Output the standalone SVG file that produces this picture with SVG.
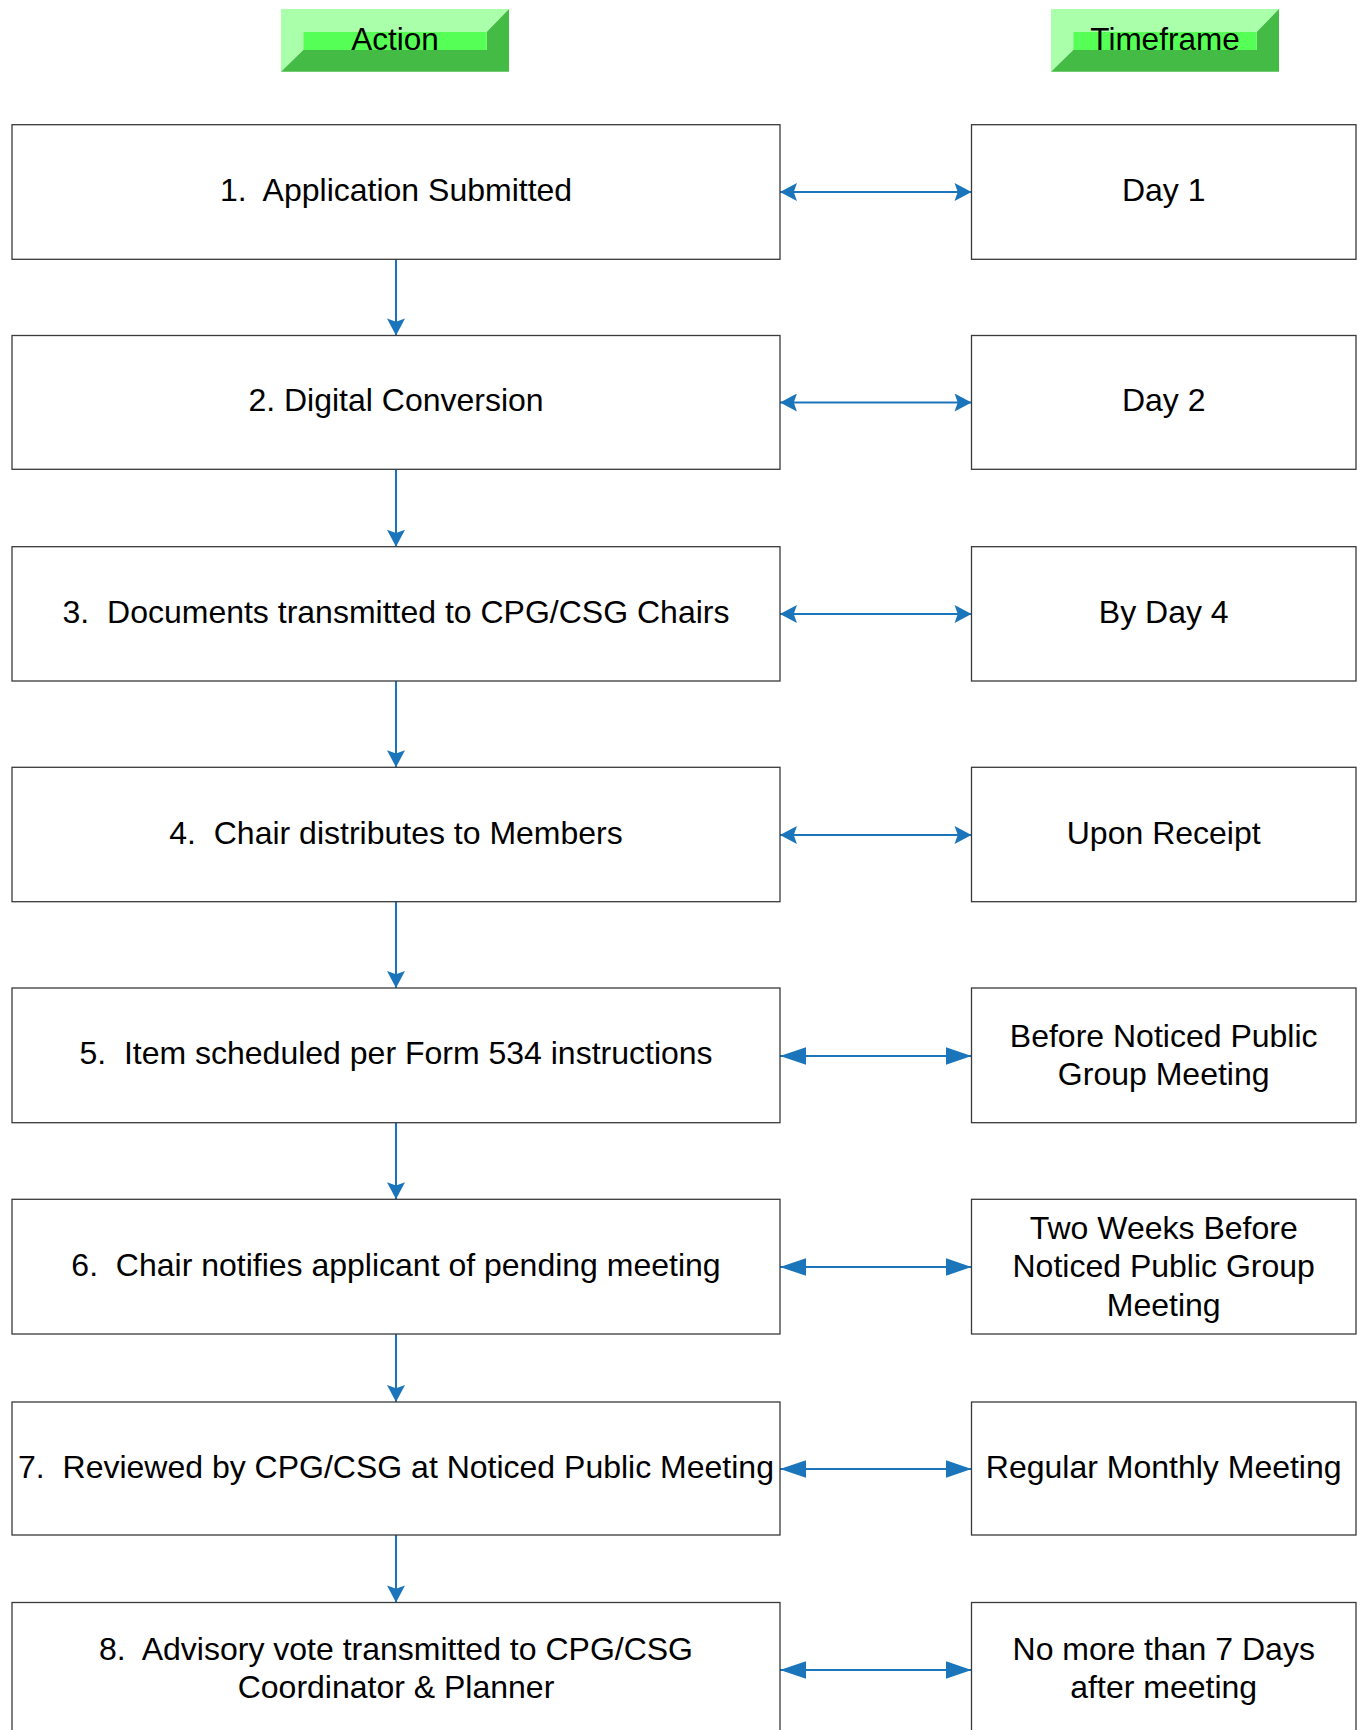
<svg xmlns="http://www.w3.org/2000/svg" width="1362" height="1730" viewBox="0 0 1362 1730">
<style>
.box{fill:#fff;stroke:#3a3a3a;stroke-width:1.3}
.t{font-family:"Liberation Sans",Arial,sans-serif;font-size:32px;fill:#000;text-anchor:middle}
.h{font-family:"Liberation Sans",Arial,sans-serif;font-size:31.5px;fill:#000;text-anchor:middle}
.c{stroke:#1a75bb;stroke-width:2;fill:none}
.lt{fill:#aaffaa}.dk{fill:#44bb44}.md{fill:#55ff55}
</style>
<defs>
<marker id="as" markerUnits="userSpaceOnUse" markerWidth="18" markerHeight="18" refX="16" refY="8.5" orient="auto-start-reverse" viewBox="0 0 16 17">
<path d="M0,0 L16,8.5 L0,17 L3,8.5 Z" fill="#1a75bb"/>
</marker>
<marker id="al" markerUnits="userSpaceOnUse" markerWidth="26" markerHeight="18" refX="25" refY="8.5" orient="auto-start-reverse" viewBox="0 0 25 17">
<path d="M0,0 L25,8.5 L0,17 Z" fill="#1a75bb"/>
</marker>
</defs>
<rect width="1362" height="1730" fill="#fff"/>

<g id="hdr-action">
<polygon class="lt" points="281,9 509,9 486.7,32 303.3,32 303.3,50 281,71.7"/>
<polygon class="dk" points="509,9 509,71.7 281,71.7 303.3,50 486.7,50 486.7,32"/>
<rect class="md" x="303.3" y="32" width="183.4" height="18"/>
<text class="h" x="395" y="50">Action</text>
</g>
<g id="hdr-timeframe">
<polygon class="lt" points="1051,9 1279,9 1256.7,32 1073.3,32 1073.3,50 1051,71.7"/>
<polygon class="dk" points="1279,9 1279,71.7 1051,71.7 1073.3,50 1256.7,50 1256.7,32"/>
<rect class="md" x="1073.3" y="32" width="183.4" height="18"/>
<text class="h" x="1165" y="50">Timeframe</text>
</g>

<g id="connectors">
<line class="c" x1="396" y1="259.3" x2="396" y2="335.5" marker-end="url(#as)"/>
<line class="c" x1="396" y1="469.3" x2="396" y2="546.7" marker-end="url(#as)"/>
<line class="c" x1="396" y1="681" x2="396" y2="767.3" marker-end="url(#as)"/>
<line class="c" x1="396" y1="901.7" x2="396" y2="988" marker-end="url(#as)"/>
<line class="c" x1="396" y1="1122.7" x2="396" y2="1199.3" marker-end="url(#as)"/>
<line class="c" x1="396" y1="1334" x2="396" y2="1402" marker-end="url(#as)"/>
<line class="c" x1="396" y1="1535" x2="396" y2="1602.5" marker-end="url(#as)"/>

<line class="c" x1="780" y1="192" x2="971.5" y2="192" marker-start="url(#as)" marker-end="url(#as)"/>
<line class="c" x1="780" y1="402.5" x2="971.5" y2="402.5" marker-start="url(#as)" marker-end="url(#as)"/>
<line class="c" x1="780" y1="614" x2="971.5" y2="614" marker-start="url(#as)" marker-end="url(#as)"/>
<line class="c" x1="780" y1="835" x2="971.5" y2="835" marker-start="url(#as)" marker-end="url(#as)"/>
<line class="c" x1="780" y1="1056" x2="971.5" y2="1056" marker-start="url(#al)" marker-end="url(#al)"/>
<line class="c" x1="780" y1="1267" x2="971.5" y2="1267" marker-start="url(#al)" marker-end="url(#al)"/>
<line class="c" x1="780" y1="1469" x2="971.5" y2="1469" marker-start="url(#al)" marker-end="url(#al)"/>
<line class="c" x1="780" y1="1670" x2="971.5" y2="1670" marker-start="url(#al)" marker-end="url(#al)"/>
</g>

<g id="a1"><rect class="box" x="12" y="124.7" width="768" height="134.6"/><text class="t" x="396" y="201" xml:space="preserve">1.  Application Submitted</text></g>
<g id="t1"><rect class="box" x="971.5" y="124.7" width="384.5" height="134.6"/><text class="t" x="1163.7" y="201">Day 1</text></g>

<g id="a2"><rect class="box" x="12" y="335.5" width="768" height="133.8"/><text class="t" x="396" y="411.4">2. Digital Conversion</text></g>
<g id="t2"><rect class="box" x="971.5" y="335.5" width="384.5" height="133.8"/><text class="t" x="1163.7" y="411.4">Day 2</text></g>

<g id="a3"><rect class="box" x="12" y="546.7" width="768" height="134.3"/><text class="t" x="396" y="623" xml:space="preserve">3.  Documents transmitted to CPG/CSG Chairs</text></g>
<g id="t3"><rect class="box" x="971.5" y="546.7" width="384.5" height="134.3"/><text class="t" x="1163.7" y="623">By Day 4</text></g>

<g id="a4"><rect class="box" x="12" y="767.3" width="768" height="134.4"/><text class="t" x="396" y="843.5" xml:space="preserve">4.  Chair distributes to Members</text></g>
<g id="t4"><rect class="box" x="971.5" y="767.3" width="384.5" height="134.4"/><text class="t" x="1163.7" y="843.5">Upon Receipt</text></g>

<g id="a5"><rect class="box" x="12" y="988" width="768" height="134.7"/><text class="t" x="396" y="1064.4" xml:space="preserve">5.  Item scheduled per Form 534 instructions</text></g>
<g id="t5"><rect class="box" x="971.5" y="988" width="384.5" height="134.7"/><text class="t" x="1163.7" y="1046.5">Before Noticed Public</text><text class="t" x="1163.7" y="1084.5">Group Meeting</text></g>

<g id="a6"><rect class="box" x="12" y="1199.3" width="768" height="134.7"/><text class="t" x="396" y="1275.7" xml:space="preserve">6.  Chair notifies applicant of pending meeting</text></g>
<g id="t6"><rect class="box" x="971.5" y="1199.3" width="384.5" height="134.7"/><text class="t" x="1163.7" y="1238.5">Two Weeks Before</text><text class="t" x="1163.7" y="1277">Noticed Public Group</text><text class="t" x="1163.7" y="1315.5">Meeting</text></g>

<g id="a7"><rect class="box" x="12" y="1402" width="768" height="133"/><text class="t" x="396" y="1477.5" xml:space="preserve">7.  Reviewed by CPG/CSG at Noticed Public Meeting</text></g>
<g id="t7"><rect class="box" x="971.5" y="1402" width="384.5" height="133"/><text class="t" x="1163.7" y="1477.5">Regular Monthly Meeting</text></g>

<g id="a8"><rect class="box" x="12" y="1602.5" width="768" height="140"/><text class="t" x="396" y="1660" xml:space="preserve">8.  Advisory vote transmitted to CPG/CSG</text><text class="t" x="396" y="1698">Coordinator &amp; Planner</text></g>
<g id="t8"><rect class="box" x="971.5" y="1602.5" width="384.5" height="140"/><text class="t" x="1163.7" y="1660">No more than 7 Days</text><text class="t" x="1163.7" y="1698">after meeting</text></g>
</svg>
